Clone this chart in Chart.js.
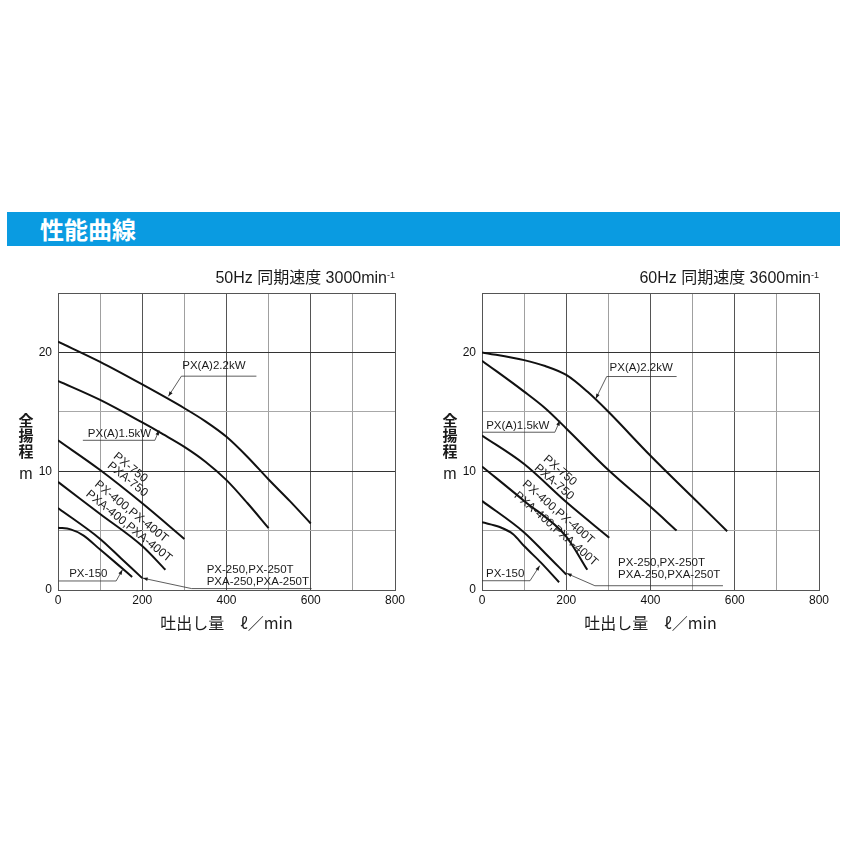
<!DOCTYPE html>
<html>
<head>
<meta charset="utf-8">
<script src="https://cdn.jsdelivr.net/npm/chart.js@4.4.1/dist/chart.umd.min.js"></script>
<style>
  body { margin: 0; background: #fff; width: 844px; height: 844px; position: relative; overflow: hidden; }
  .bar { position: absolute; left: 7px; top: 212px; width: 833px; height: 34px; background: #0a9be1; }
  .bar span { position: absolute; left: 33px; top: 2px; color: #fff; font: bold 24px "Noto Sans CJK JP"; line-height: 30px; }
  canvas { position: absolute; top: 260px; }
</style>
</head>
<body>
<div class="bar"><span>性能曲線</span></div>
<canvas id="c50" width="420" height="380" style="left:0px"></canvas>
<canvas id="c60" width="420" height="380" style="left:424px"></canvas>
<script>
// 吐出し量 (l/min) と 全揚程 (m)、50Hz
const q50_22 = [0, 100, 200, 300, 350, 400, 450, 500, 550, 600];
const h50_22 = [20.9, 19.2, 17.3, 15.3, 14.2, 12.9, 11.2, 9.3, 7.5, 5.6];
const q50_15 = [0, 100, 200, 250, 300, 350, 400, 450, 500];
const h50_15 = [17.6, 16.0, 14.1, 13.1, 12.05, 10.8, 9.25, 7.3, 5.2];
const q50_750 = [0, 100, 200, 300];
const h50_750 = [12.6, 10.1, 7.3, 4.3];
const q50_400 = [0, 100, 200, 255];
const h50_400 = [9.1, 6.4, 3.7, 1.7];
const q50_250 = [0, 100, 150, 200];
const h50_250 = [6.9, 4.3, 2.65, 1.0];
const q50_150 = [0, 30, 60, 100, 140, 176];
const h50_150 = [5.25, 5.1, 4.6, 3.4, 2.2, 1.1];

// 60Hz
const q60_22 = [0, 100, 150, 200, 250, 300, 400, 500, 582];
const h60_22 = [20.0, 19.35, 18.85, 18.1, 16.7, 15.0, 11.3, 7.8, 4.95];
const q60_15 = [0, 100, 150, 200, 300, 400, 462];
const h60_15 = [19.3, 16.7, 15.3, 13.6, 10.1, 7.0, 5.0];
const q60_750 = [0, 100, 200, 302];
const h60_750 = [13.0, 10.6, 7.4, 4.4];
const q60_400 = [0, 100, 200, 250];
const h60_400 = [10.4, 7.5, 4.5, 1.7];
const q60_250 = [0, 100, 150, 200];
const h60_250 = [7.5, 4.85, 3.1, 1.3];
const q60_150 = [0, 42, 74, 100, 140, 183];
const h60_150 = [5.7, 5.3, 4.7, 3.7, 2.3, 0.65];

const xTicks = [0, 200, 400, 600, 800];
const yTicks = [0, 10, 20];

// 注記 (データ座標)
const notes50 = [
  { text: ['PX(A)2.2kW'], at: [370, 18.85], line: [[471, 18.0], [293, 18.0], [262, 16.3]] },
  { text: ['PX(A)1.5kW'], at: [146, 13.18], line: [[59, 12.6], [230, 12.6], [240, 13.45]] },
  { text: ['PX-150'], at: [72, 1.32], line: [[2, 0.76], [138, 0.76], [153, 1.7]] },
  { text: ['PX-250,PX-250T', 'PXA-250,PXA-250T'], at: [353, 1.66], left: true, line: [[602, 0.12], [317, 0.12], [201, 1.0]] },
  { text: ['PX-750'], at: [172, 10.3], rot: 39 },
  { text: ['PXA-750'], at: [165, 9.3], rot: 39 },
  { text: ['PX-400,PX-400T'], at: [174, 6.6], rot: 39 },
  { text: ['PXA-400,PXA-400T'], at: [168, 5.37], rot: 39 }
];
const notes60 = [
  { text: ['PX(A)2.2kW'], at: [378, 18.7], line: [[462, 17.97], [296, 17.97], [270, 16.1]] },
  { text: ['PX(A)1.5kW'], at: [85, 13.8], line: [[0, 13.28], [173, 13.28], [185, 14.26]] },
  { text: ['PX-150'], at: [55, 1.35], line: [[0, 0.78], [114, 0.78], [137, 2.05]] },
  { text: ['PX-250,PX-250T', 'PXA-250,PXA-250T'], at: [323, 2.3], left: true, line: [[572, 0.36], [268, 0.36], [201, 1.4]] },
  { text: ['PX-750'], at: [185, 10.05], rot: 41 },
  { text: ['PXA-750'], at: [171, 9.07], rot: 41 },
  { text: ['PX-400,PX-400T'], at: [181, 6.54], rot: 41 },
  { text: ['PXA-400,PXA-400T'], at: [175.6, 5.14], rot: 41 }
];

const LATIN = '"Liberation Sans", "Noto Sans CJK JP"';
const CJK = '"Noto Sans CJK JP"';

function series(q, h) {
  return q.map((v, i) => ({ x: v, y: h[i] }));
}

function curve(q, h) {
  return {
    data: series(q, h),
    borderColor: '#111',
    borderWidth: 2,
    pointRadius: 0,
    fill: false,
    cubicInterpolationMode: 'monotone'
  };
}

const decor = {
  id: 'decor',
  afterDraw(chart, args, opts) {
    const ctx = chart.ctx;
    const a = chart.chartArea;
    const x = chart.scales.x, y = chart.scales.y;
    ctx.save();
    ctx.fillStyle = '#1a1a1a';

    // タイトル (右寄せ、上付き -1)
    ctx.font = '9px ' + LATIN;
    ctx.textAlign = 'right';
    ctx.textBaseline = 'alphabetic';
    const sw = ctx.measureText('-1').width;
    ctx.fillText('-1', a.right, 18);
    ctx.font = '16px ' + LATIN;
    ctx.fillText(opts.title, a.right - sw, 23);

    // 縦軸タイトル
    ctx.textAlign = 'center';
    ctx.textBaseline = 'middle';
    ctx.font = 'bold 15px ' + CJK;
    const cx = a.left - 32;
    ['全', '揚', '程'].forEach((ch, i) => ctx.fillText(ch, cx, 160 + i * 15.5));
    ctx.font = '16px ' + LATIN;
    ctx.fillText('m', cx, 215);

    // 横軸タイトル
    ctx.font = '16px ' + CJK;
    ctx.fillText('吐出し量　ℓ／min', (a.left + a.right) / 2, 363);

    // 注記
    ctx.strokeStyle = '#333';
    ctx.lineWidth = 0.8;
    opts.notes.forEach(n => {
      const px = x.getPixelForValue(n.at[0]);
      const py = y.getPixelForValue(n.at[1]);
      if (n.rot) {
        ctx.save();
        ctx.translate(px, py);
        ctx.rotate(n.rot * Math.PI / 180);
        ctx.font = '12px ' + LATIN;
        ctx.textAlign = 'center';
        ctx.fillText(n.text[0], 0, 0);
        ctx.restore();
      } else {
        ctx.font = '11.5px ' + LATIN;
        ctx.textAlign = n.left ? 'left' : 'center';
        n.text.forEach((t, i) => ctx.fillText(t, px, py + i * 12));
      }
      if (n.line) {
        const pts = n.line.map(p => [x.getPixelForValue(p[0]), y.getPixelForValue(p[1])]);
        ctx.beginPath();
        pts.forEach((p, i) => i ? ctx.lineTo(p[0], p[1]) : ctx.moveTo(p[0], p[1]));
        ctx.stroke();
        // 矢印
        const e = pts[pts.length - 1], s = pts[pts.length - 2];
        const ang = Math.atan2(e[1] - s[1], e[0] - s[0]);
        ctx.beginPath();
        ctx.moveTo(e[0], e[1]);
        ctx.lineTo(e[0] - 5 * Math.cos(ang) + 1.8 * Math.sin(ang), e[1] - 5 * Math.sin(ang) - 1.8 * Math.cos(ang));
        ctx.lineTo(e[0] - 5 * Math.cos(ang) - 1.8 * Math.sin(ang), e[1] - 5 * Math.sin(ang) + 1.8 * Math.cos(ang));
        ctx.closePath();
        ctx.fill();
      }
    });
    ctx.restore();
  }
};

function makeChart(id, title, sets, notes) {
  new Chart(document.getElementById(id), {
    type: 'line',
    data: { datasets: sets },
    plugins: [decor],
    options: {
      responsive: false,
      animation: false,
      layout: { padding: { top: 33, right: 25, left: 0, bottom: 0 } },
      plugins: {
        legend: { display: false },
        tooltip: { enabled: false },
        decor: { title: title, notes: notes }
      },
      scales: {
        x: {
          type: 'linear',
          min: 0,
          max: 800,
          afterFit: s => { s.height = 50; },
          ticks: {
            stepSize: 100,
            autoSkip: false,
            maxRotation: 0,
            padding: 3,
            color: '#111',
            font: { family: LATIN, size: 12 },
            callback: v => xTicks.includes(v) ? v : ''
          },
          grid: {
            drawTicks: false,
            lineWidth: 1,
            color: c => (c.tick && (c.tick.value % 200 === 0)) ? '#555' : '#a0a0a0'
          },
          border: { color: '#555' }
        },
        y: {
          min: 0,
          max: 25,
          afterFit: s => { s.width = 58; },
          ticks: {
            stepSize: 5,
            padding: 6,
            color: '#111',
            font: { family: LATIN, size: 12 },
            callback: v => yTicks.includes(v) ? v : ''
          },
          grid: {
            drawTicks: false,
            lineWidth: 1,
            color: c => (c.tick && (c.tick.value % 10 === 0)) ? '#333' : (c.tick && c.tick.value === 25 ? '#555' : '#a8a8a8')
          },
          border: { color: '#555' }
        }
      }
    }
  });
}

makeChart('c50', '50Hz 同期速度 3000min', [
  curve(q50_22, h50_22), curve(q50_15, h50_15), curve(q50_750, h50_750),
  curve(q50_400, h50_400), curve(q50_250, h50_250), curve(q50_150, h50_150)
], notes50);

makeChart('c60', '60Hz 同期速度 3600min', [
  curve(q60_22, h60_22), curve(q60_15, h60_15), curve(q60_750, h60_750),
  curve(q60_400, h60_400), curve(q60_250, h60_250), curve(q60_150, h60_150)
], notes60);
</script>
</body>
</html>
